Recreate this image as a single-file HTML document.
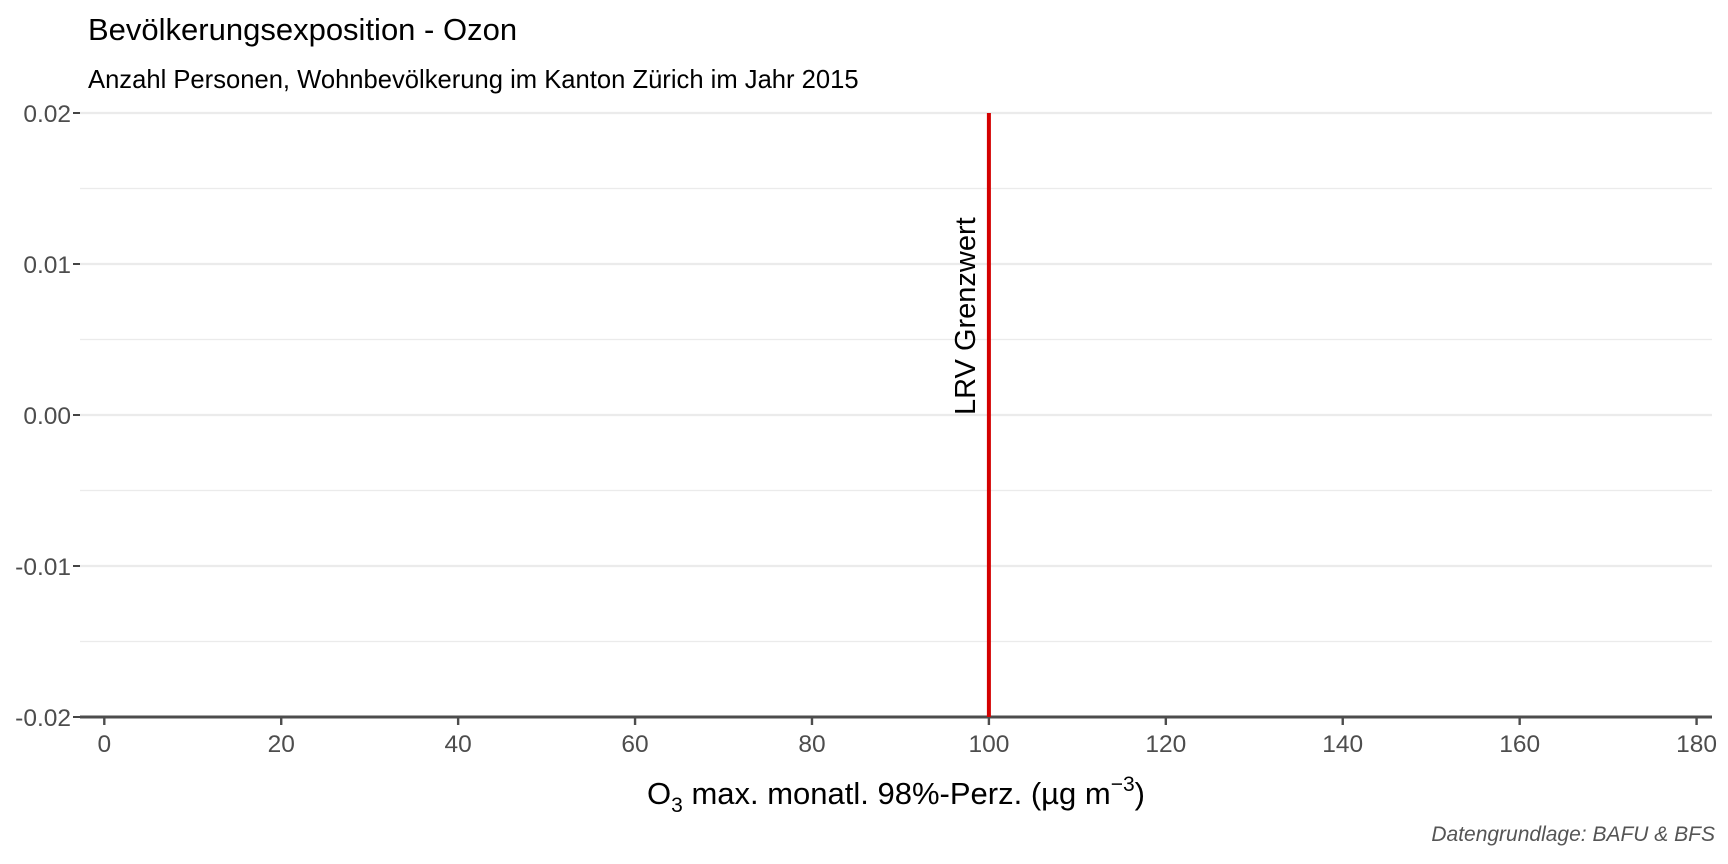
<!DOCTYPE html>
<html><head><meta charset="utf-8"><style>
body{margin:0;background:#fff;}
svg{display:block;font-family:"Liberation Sans",Arial,sans-serif;}
</style></head><body>
<svg width="1728" height="864" viewBox="0 0 1728 864">
<text x="88" y="40" font-size="31" fill="#000">Bevölkerungsexposition - Ozon</text>
<text x="88" y="88" font-size="25.6" fill="#000">Anzahl Personen, Wohnbevölkerung im Kanton Zürich im Jahr 2015</text>
<g id="grid"></g>
<g id="yaxis"></g>
<g id="xaxis"></g>
<g id="marks"></g>
<text x="896" y="804" font-size="31" text-anchor="middle" fill="#000">O<tspan font-size="21" dy="8">3</tspan><tspan dy="-8"> max. monatl. 98%-Perz. (µg m</tspan><tspan font-size="21" dy="-13">−3</tspan><tspan dy="13">)</tspan></text>
<text x="1715" y="841" font-size="21" font-style="italic" text-anchor="end" fill="#555">Datengrundlage: BAFU &amp; BFS</text>
</svg>
<script>
const xTicks=[0,20,40,60,80,100,120,140,160,180];
const yTicks=[0.02,0.01,0.00,-0.01,-0.02];
const yTickLabels=["0.02","0.01","0.00","-0.01","-0.02"];
const yMinor=[0.015,0.005,-0.005,-0.015];
const limitValue=[100];
const limitLabel=["LRV Grenzwert"];
const NS="http://www.w3.org/2000/svg";
const X=v=>104.3+v*8.846;
const Y=v=>415-v*15100;
const L=80,R=1712;
function mk(t,a,p){const e=document.createElementNS(NS,t);for(const k in a)e.setAttribute(k,a[k]);p.appendChild(e);return e;}
const grid=document.getElementById('grid'),ya=document.getElementById('yaxis'),xa=document.getElementById('xaxis'),mg=document.getElementById('marks');
yMinor.forEach(v=>{const e=mk('line',{x1:L,x2:R,y1:Y(v),y2:Y(v),stroke:'#ebebeb','stroke-width':1.2},grid);

});
yTicks.forEach((v,i)=>{const e=mk('line',{x1:L,x2:R,y1:Y(v),y2:Y(v),stroke:'#ebebeb','stroke-width':2.2},grid);


const t=mk('line',{x1:L-7,x2:L,y1:Y(v),y2:Y(v),stroke:'#444','stroke-width':2},ya);


const tx=mk('text',{x:L-9,y:Y(v)+9,'font-size':24.5,'text-anchor':'end',fill:'#4d4d4d'},ya);tx.textContent=yTickLabels[i];

});
const ax=mk('line',{x1:L,x2:R,y1:Y(-0.02),y2:Y(-0.02),stroke:'#4d4d4d','stroke-width':3},xa);


xTicks.forEach(v=>{const t=mk('line',{x1:X(v),x2:X(v),y1:Y(-0.02),y2:Y(-0.02)+8,stroke:'#4d4d4d','stroke-width':2.4},xa);


const tx=mk('text',{x:X(v),y:Y(-0.02)+35,'font-size':24.5,'text-anchor':'middle',fill:'#4d4d4d'},xa);tx.textContent=v;

});
limitValue.forEach((v,i)=>{const l=mk('line',{x1:X(v),x2:X(v),y1:Y(0.02),y2:Y(-0.02),stroke:'#d40000','stroke-width':4},mg);


const t=mk('text',{x:0,y:0,'font-size':29,fill:'#000',transform:`translate(${X(v)-14},${Y(0)}) rotate(-90)`},mg);t.textContent=limitLabel[i];

});
</script>
</body></html>
